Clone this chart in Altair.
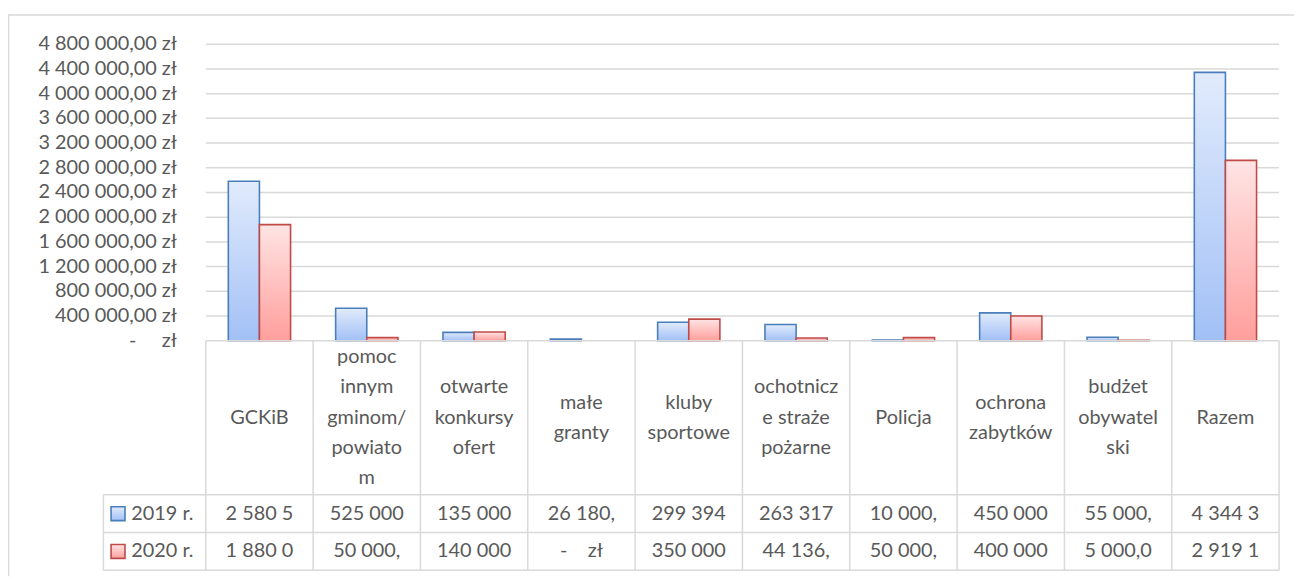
import altair as alt
import pandas as pd

# ---------------- data ----------------
categories = ["GCKiB", "pomoc\ninnym\ngminom/\npowiato\nm", "otwarte\nkonkursy\nofert",
              "małe\ngranty", "kluby\nsportowe", "ochotnicz\ne straże\npożarne", "Policja",
              "ochrona\nzabytków", "budżet\nobywatel\nski", "Razem"]
series_names = ["2019 r.", "2020 r."]
values_2019 = [2580500, 525000, 135000, 26180, 299394, 263317, 10000, 450000, 55000, 4344391]
values_2020 = [1880000, 50000, 140000, 0, 350000, 44136, 50000, 400000, 5000, 2919136]
table_2019 = ["2 580 5", "525 000", "135 000", "26 180,", "299 394", "263 317", "10 000,",
              "450 000", "55 000,", "4 344 3"]
table_2020 = ["1 880 0", "50 000,", "140 000", "-\u00a0\u00a0\u00a0\u00a0zł", "350 000", "44 136,",
              "50 000,", "400 000", "5 000,0", "2 919 1"]
y_tick_values = [0, 400000, 800000, 1200000, 1600000, 2000000, 2400000, 2800000,
                 3200000, 3600000, 4000000, 4400000, 4800000]
y_tick_labels = ["-\u00a0\u00a0\u00a0\u00a0\u00a0zł", "400 000,00 zł", "800 000,00 zł",
                 "1 200 000,00 zł", "1 600 000,00 zł", "2 000 000,00 zł", "2 400 000,00 zł",
                 "2 800 000,00 zł", "3 200 000,00 zł", "3 600 000,00 zł", "4 000 000,00 zł",
                 "4 400 000,00 zł", "4 800 000,00 zł"]

# ---------------- layout constants ----------------
W, H = 1295, 570
COL = 108.0
X0PX = 199.0
NCAT = len(categories)
X_DOMAIN = [-X0PX / COL, (W - X0PX) / COL]
PX_PER_UNIT = 298.3 / 4800000
ZERO_PX = 333.0
MONEY_DOMAIN = [-(H - ZERO_PX) / PX_PER_UNIT, 4800000 + (ZERO_PX - 298.3) / PX_PER_UNIT]
LEG_LEFT = (96 - X0PX) / COL
LABEL_X = (170 - X0PX) / COL
ROW_TOP, ROW1, ROW2, ROW3 = 333, 488, 526, 564
BAR_W = 0.29
OFFSETS = [0.21, 0.50]
LH = 30.5

FONT = "Lato"
FS = 20
TXT = "#595959"
LINE = "#d9d9d9"

xs = alt.Scale(domain=X_DOMAIN, nice=False, zero=False)
ym = alt.Scale(domain=MONEY_DOMAIN, nice=False, zero=False)
yt = alt.Scale(domain=[0, H], reverse=True, nice=False, zero=False)

blue_fill = {"gradient": "linear", "x1": 0, "x2": 0, "y1": 0, "y2": 1,
             "stops": [{"offset": 0, "color": "#e1ebfc"}, {"offset": 1, "color": "#a2c0f6"}]}
red_fill = {"gradient": "linear", "x1": 0, "x2": 0, "y1": 0, "y2": 1,
            "stops": [{"offset": 0, "color": "#ffe4e4"}, {"offset": 1, "color": "#ff9f9c"}]}
fills = [blue_fill, red_fill]
strokes = ["#4a7ebb", "#be4b48"]

# ---------------- money layers ----------------
grid_df = pd.DataFrame({"v": y_tick_values[1:], "x0": 0, "x1": NCAT})
grid = alt.Chart(grid_df).mark_rule(color=LINE, strokeWidth=1.5).encode(
    x=alt.X("x0:Q", scale=xs, axis=None), x2="x1:Q",
    y=alt.Y("v:Q", scale=ym, axis=None))

ticks_df = pd.DataFrame({"v": y_tick_values, "label": y_tick_labels, "x": LABEL_X})
tick_text = alt.Chart(ticks_df).mark_text(
    align="right", baseline="middle", font=FONT, fontSize=FS, color=TXT).encode(
    x=alt.X("x:Q", scale=xs, axis=None), y=alt.Y("v:Q", scale=ym, axis=None), text="label:N")

rows = []
for i in range(NCAT):
    rows.append({"idx": i, "series": series_names[0], "value": values_2019[i]})
    rows.append({"idx": i, "series": series_names[1], "value": values_2020[i]})
bars_df = pd.DataFrame(rows)

bar_layers = []
for s, off, f, st in zip(series_names, OFFSETS, fills, strokes):
    bar_layers.append(
        alt.Chart(bars_df)
        .transform_filter(alt.datum.series == s)
        .transform_filter(alt.datum.value > 0)
        .transform_calculate(x0=f"datum.idx + {off}", x1=f"datum.idx + {off + BAR_W}")
        .mark_bar(fill=f, stroke=st, strokeWidth=1.6)
        .encode(x=alt.X("x0:Q", scale=xs, axis=None), x2="x1:Q",
                y=alt.Y("value:Q", scale=ym, axis=None), y2=alt.datum(0))
    )

money = alt.layer(grid, tick_text, *bar_layers)

# ---------------- table layers ----------------
vl = [{"x": k, "y0": ROW_TOP, "y1": ROW3} for k in range(NCAT + 1)]
vl.append({"x": LEG_LEFT, "y0": ROW1, "y1": ROW3})
vl.append({"x": X_DOMAIN[0] + 0.6 / COL, "y0": 5.3, "y1": H})  # outer border left
vlines = alt.Chart(pd.DataFrame(vl)).mark_rule(color=LINE, strokeWidth=1.5).encode(
    x=alt.X("x:Q", scale=xs, axis=None), y=alt.Y("y0:Q", scale=yt, axis=None), y2="y1:Q")

hl = [{"x0": 0, "x1": NCAT, "y": ROW_TOP},
      {"x0": LEG_LEFT, "x1": NCAT, "y": ROW1},
      {"x0": LEG_LEFT, "x1": NCAT, "y": ROW2},
      {"x0": LEG_LEFT, "x1": NCAT, "y": ROW3},
      {"x0": X_DOMAIN[0], "x1": (1294 - X0PX) / COL, "y": 5.3}]  # outer border top
hlines = alt.Chart(pd.DataFrame(hl)).mark_rule(color=LINE, strokeWidth=1.5).encode(
    x=alt.X("x0:Q", scale=xs, axis=None), x2="x1:Q", y=alt.Y("y:Q", scale=yt, axis=None))

label_mid = (ROW_TOP + ROW1) / 2
cat_df = pd.DataFrame({"idx": list(range(NCAT)), "label": categories,
                       "nlines": [c.count("\n") + 1 for c in categories]})
cat_text = alt.Chart(cat_df).transform_calculate(
    xc="datum.idx + 0.5", yc=f"{label_mid} - (datum.nlines - 1) * {LH / 2}").mark_text(
    align="center", baseline="middle", font=FONT, fontSize=FS, color=TXT,
    lineBreak="\n", lineHeight=LH).encode(
    x=alt.X("xc:Q", scale=xs, axis=None), y=alt.Y("yc:Q", scale=yt, axis=None), text="label:N")

cell_rows = []
for i in range(NCAT):
    cell_rows.append({"idx": i, "yc": (ROW1 + ROW2) / 2, "t": table_2019[i]})
    cell_rows.append({"idx": i, "yc": (ROW2 + ROW3) / 2, "t": table_2020[i]})
cells = alt.Chart(pd.DataFrame(cell_rows)).transform_calculate(xc="datum.idx + 0.5").mark_text(
    align="center", baseline="middle", font=FONT, fontSize=FS, color=TXT).encode(
    x=alt.X("xc:Q", scale=xs, axis=None), y=alt.Y("yc:Q", scale=yt, axis=None), text="t:N")

leg_layers = []
row_centers = [(ROW1 + ROW2) / 2, (ROW2 + ROW3) / 2]
for s, yc, f, st in zip(series_names, row_centers, fills, strokes):
    sq = pd.DataFrame({"x0": [(103.7 - X0PX) / COL], "x1": [(117.7 - X0PX) / COL],
                       "y0": [yc - 7], "y1": [yc + 7]})
    leg_layers.append(alt.Chart(sq).mark_rect(fill=f, stroke=st, strokeWidth=1.6).encode(
        x=alt.X("x0:Q", scale=xs, axis=None), x2="x1:Q",
        y=alt.Y("y0:Q", scale=yt, axis=None), y2="y1:Q"))
leg_df = pd.DataFrame({"name": series_names, "yc": row_centers, "x": (124 - X0PX) / COL})
leg_text = alt.Chart(leg_df).mark_text(
    align="left", baseline="middle", font=FONT, fontSize=FS, color=TXT).encode(
    x=alt.X("x:Q", scale=xs, axis=None), y=alt.Y("yc:Q", scale=yt, axis=None), text="name:N")

table = alt.layer(vlines, hlines, cat_text, cells, *leg_layers, leg_text)

chart = alt.layer(money, table).resolve_scale(y="independent").properties(
    width=W, height=H, autosize=alt.AutoSizeParams(type="none"), padding=0,
    background="white").configure_view(stroke=None)

chart.save("out.html", embed_options={"renderer": "svg", "actions": False})
